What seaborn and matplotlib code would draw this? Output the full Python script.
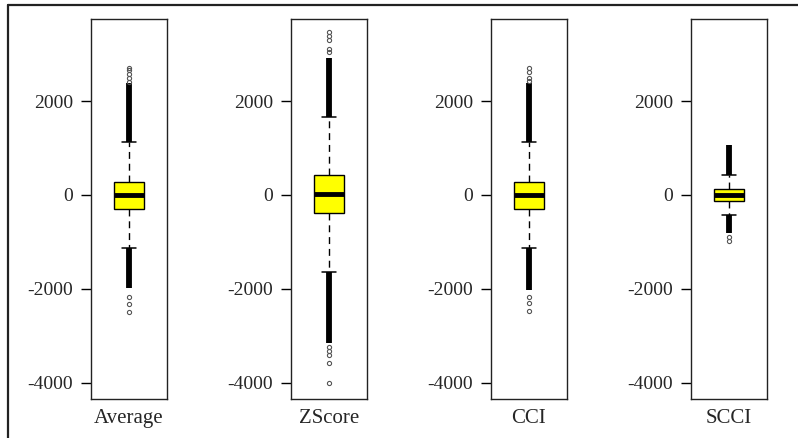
import numpy as np
import seaborn as sns
import matplotlib.pyplot as plt
from matplotlib.lines import Line2D

# box statistics
names = ["Average", "ZScore", "CCI", "SCCI"]
q1 = [-298, -383, -300, -121]
med = [-10, 20, -10, 0]
q3 = [283, 425, 283, 121]
whislo = [-1128, -1632, -1121, -426]
whishi = [1121, 1660, 1121, 419]
# extent of the densely packed outliers (they merge into a solid bar)
dense_hi = [2380, 2915, 2380, 1064]
dense_lo = [-1980, -3150, -2021, -815]
# sparse, individually visible outliers
sparse = [
    [2405, 2490, 2575, 2660, 2700, -2164, -2320, -2483],
    [3050, 3100, 3298, 3384, 3469, -3228, -3313, -3405, -3568, -4008],
    [2430, 2500, 2620, 2700, -2164, -2305, -2462],
    [-887, -972],
]
yticks = [-4000, -2000, 0, 2000]

sns.set_style("ticks")
plt.rcParams['font.family'] = ['Liberation Serif', 'DejaVu Serif']

W, H = 798, 438
fig = plt.figure(figsize=(W / 100, H / 100), dpi=100)

lefts = [91, 291, 491, 691]
for i, name in enumerate(names):
    ax = fig.add_axes([lefts[i] / W, 1 - 399 / H, 76 / W, 380 / H])
    stats = [{'med': med[i], 'q1': q1[i], 'q3': q3[i],
              'whislo': whislo[i], 'whishi': whishi[i],
              'fliers': sparse[i], 'label': name}]
    # dense outlier bars
    ax.vlines([1, 1], [whishi[i], dense_lo[i]], [dense_hi[i], whislo[i]],
              colors='black', lw=4.2, zorder=2)
    ax.bxp(stats, positions=[1], widths=0.41, capwidths=0.2, patch_artist=True,
           boxprops=dict(facecolor='#ffff00', edgecolor='black', lw=1),
           medianprops=dict(color='black', lw=3.5, solid_capstyle='butt'),
           whiskerprops=dict(color='black', lw=1, ls=(0, (5, 3.5))),
           capprops=dict(color='black', lw=1.1),
           flierprops=dict(marker='o', mfc='none', mec='#555555', ms=3.0, mew=0.8),
           zorder=3)
    ax.set_xlim(0.463, 1.537)
    ax.set_ylim(-4341, 3745)
    ax.set_yticks(yticks)
    ax.set_yticklabels([str(t) for t in yticks])
    ax.set_xticks([1])
    ax.set_xticklabels([name])
    ax.tick_params(axis='y', length=7, width=1, pad=6, labelsize=14, color='black')
    ax.tick_params(axis='x', length=0, pad=7, labelsize=15)
    for s in ax.spines.values():
        s.set_linewidth(1)
        s.set_color('#222222')
    ax.set_facecolor('white')

# outer frame (top and left edges visible)
fig.add_artist(Line2D([8 / W, 1], [1 - 5 / H, 1 - 5 / H], color='#222222', lw=1.6))
fig.add_artist(Line2D([8 / W, 8 / W], [0, 1 - 5 / H], color='#222222', lw=1.6))

fig.savefig("out.png", dpi=100)
